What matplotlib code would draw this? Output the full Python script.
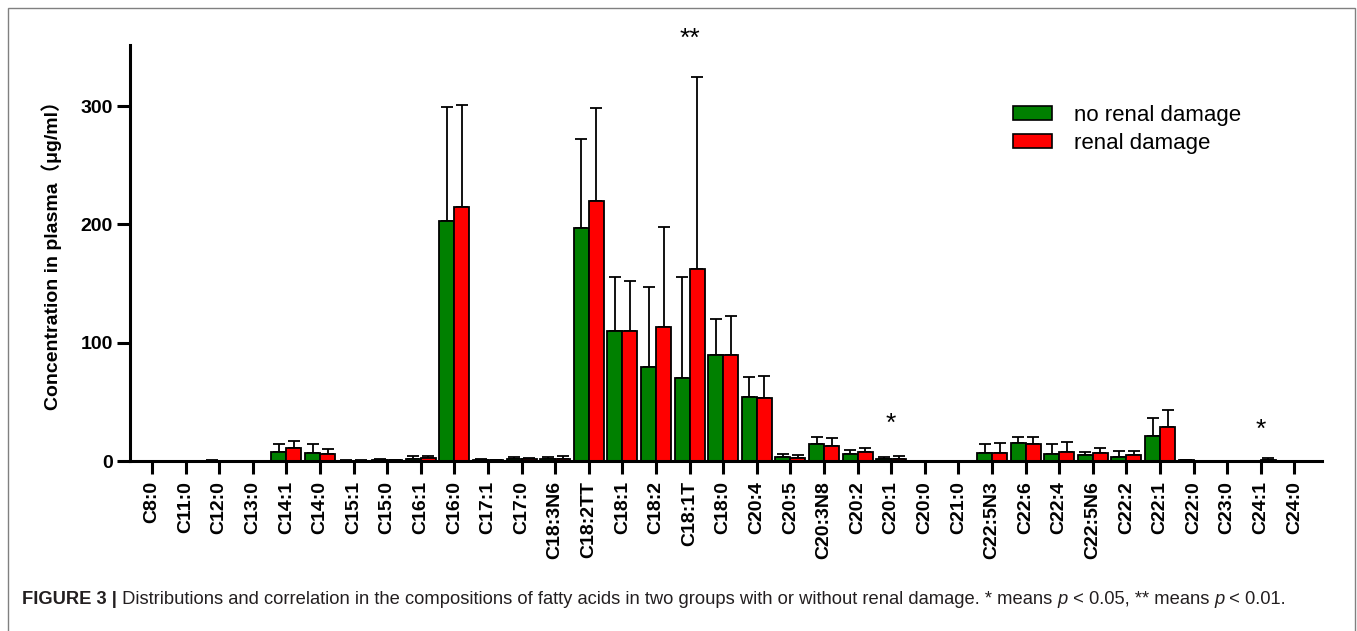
import matplotlib
matplotlib.use("Agg")
import matplotlib.pyplot as plt
import numpy as np
from matplotlib.patches import Patch, Rectangle

categories = ["C8:0", "C11:0", "C12:0", "C13:0", "C14:1", "C14:0", "C15:1", "C15:0",
              "C16:1", "C16:0", "C17:1", "C17:0", "C18:3N6", "C18:2TT", "C18:1", "C18:2",
              "C18:1T", "C18:0", "C20:4", "C20:5", "C20:3N8", "C20:2", "C20:1", "C20:0",
              "C21:0", "C22:5N3", "C22:6", "C22:4", "C22:5N6", "C22:2", "C22:1", "C22:0",
              "C23:0", "C24:1", "C24:0"]

no_damage_mean = [0, 0, 0.4, 0, 7.9, 6.5, 0.3, 0.8, 2.0, 203, 0.8, 1.5, 2.0, 197, 110, 79.5,
                  70, 90, 53.8, 3.4, 14.1, 5.9, 2.0, 0, 0, 7.0, 14.9, 5.9, 5.1, 3.7, 20.8, 0.5,
                  0, 0, 0]
no_damage_sd = [0, 0, 0.8, 0, 6.7, 8.1, 0.3, 0.8, 2.0, 96, 0.6, 1.5, 1.5, 75, 45.5, 67.5,
                85.5, 30, 17.2, 2.5, 6.4, 3.4, 1.0, 0, 0, 7.1, 5.7, 8.5, 2.5, 4.5, 15.2, 0.3,
                0, 0, 0]
damage_mean = [0, 0, 0, 0, 10.7, 5.7, 0.3, 0.5, 2.5, 215, 0.5, 1.5, 2.0, 220, 110, 113,
               162, 89.5, 53, 2.8, 13.0, 7.9, 1.5, 0, 0, 6.5, 14.4, 7.6, 6.8, 4.8, 28.7, 0,
               0, 0.5, 0]
damage_sd = [0, 0, 0, 0, 6.2, 4.7, 0.3, 0.5, 2.0, 86, 0.5, 0.8, 2.0, 78, 42, 85,
             162.5, 33, 19, 2.0, 6.2, 3.4, 2.7, 0, 0, 8.4, 6.2, 8.7, 4.5, 3.4, 14.4, 0,
             0, 2.0, 0]

significance = {"C18:1T": "**", "C20:1": "*", "C24:1": "*"}
sig_y = {"C18:1T": 357, "C20:1": 31, "C24:1": 26}

legend_labels = ["no renal damage", "renal damage"]
colors = ["#008000", "#FF0000"]

W, H = 1357, 631
fig = plt.figure(figsize=(W / 100, H / 100), dpi=100)
ax = fig.add_axes([130 / W, (H - 461) / H, (1322 - 130) / W, (461 - 45) / H])

x = np.arange(len(categories))
bw = 0.446
ax.bar(x - bw / 2, no_damage_mean, width=bw, color=colors[0], edgecolor="black", linewidth=1.3, zorder=2)
ax.bar(x + bw / 2, damage_mean, width=bw, color=colors[1], edgecolor="black", linewidth=1.3, zorder=2)
ax.errorbar(x - bw / 2, no_damage_mean, yerr=[np.zeros(len(x)), no_damage_sd], fmt="none",
            ecolor="black", elinewidth=1.3, capsize=4.5, capthick=1.3, zorder=1)
ax.errorbar(x + bw / 2, damage_mean, yerr=[np.zeros(len(x)), damage_sd], fmt="none",
            ecolor="black", elinewidth=1.3, capsize=4.5, capthick=1.3, zorder=1)

for cat, s in significance.items():
    i = categories.index(cat)
    ax.text(i, sig_y[cat], s, ha="center", va="center", fontsize=19,
            family="Liberation Sans", clip_on=False)

ax.set_xlim(-0.655, 34.82)
ax.set_ylim(0, 351.6)
ax.set_yticks([0, 100, 200, 300])
ax.set_xticks(x)
ax.set_xticklabels(categories, rotation=90, fontsize=14, fontweight="bold", family="Liberation Sans")
for lab in ax.get_yticklabels():
    lab.set_fontsize(14)
    lab.set_fontweight("bold")
    lab.set_family("Liberation Sans")
ax.tick_params(axis="both", direction="out", length=9.5, width=2.2, pad=3)
ax.tick_params(axis="x", pad=5)
for side in ["top", "right"]:
    ax.spines[side].set_visible(False)
for side in ["left", "bottom"]:
    ax.spines[side].set_linewidth(2.2)

fig.text(52 / W, 1 - 251 / H, "Concentration in plasma（μg/ml）", rotation=90,
         ha="center", va="center", fontsize=14, fontweight="bold",
         family=["Liberation Sans", "Noto Sans CJK SC"])

handles = [Patch(facecolor=c, edgecolor="black", linewidth=1.2) for c in colors]
fig.legend(handles, legend_labels, loc="upper left", bbox_to_anchor=(1013 / W, 1 - 105 / H),
           frameon=False, prop={"family": "Liberation Sans", "size": 16},
           handlelength=1.75, handleheight=0.55, handletextpad=1.0, labelspacing=0.3,
           borderpad=0, borderaxespad=0)

# figure frame
fig.patches.append(Rectangle((8 / W, -0.05), (1355 - 8) / W, 1.05 - 8 / H,
                             transform=fig.transFigure, fill=False, edgecolor="#808080",
                             linewidth=1.0))

# caption with mixed styles
segments = [("FIGURE 3 |", {"fontweight": "bold"}),
            (" Distributions and correlation in the compositions of fatty acids in two groups with or without renal damage. * means ", {}),
            ("p", {"style": "italic"}),
            (" < 0.05, ** means ", {}),
            ("p", {"style": "italic"}),
            (" < 0.01.", {})]
renderer = fig.canvas.get_renderer()
xpos = 22 / W
for txt, kw in segments:
    t = fig.text(xpos, 1 - 599 / H, txt, ha="left", va="center", fontsize=13.2,
                 family="Liberation Sans", color="#231f20", **kw)
    bb = t.get_window_extent(renderer=renderer)
    xpos += bb.width / W

fig.savefig("out.png", dpi=100)
